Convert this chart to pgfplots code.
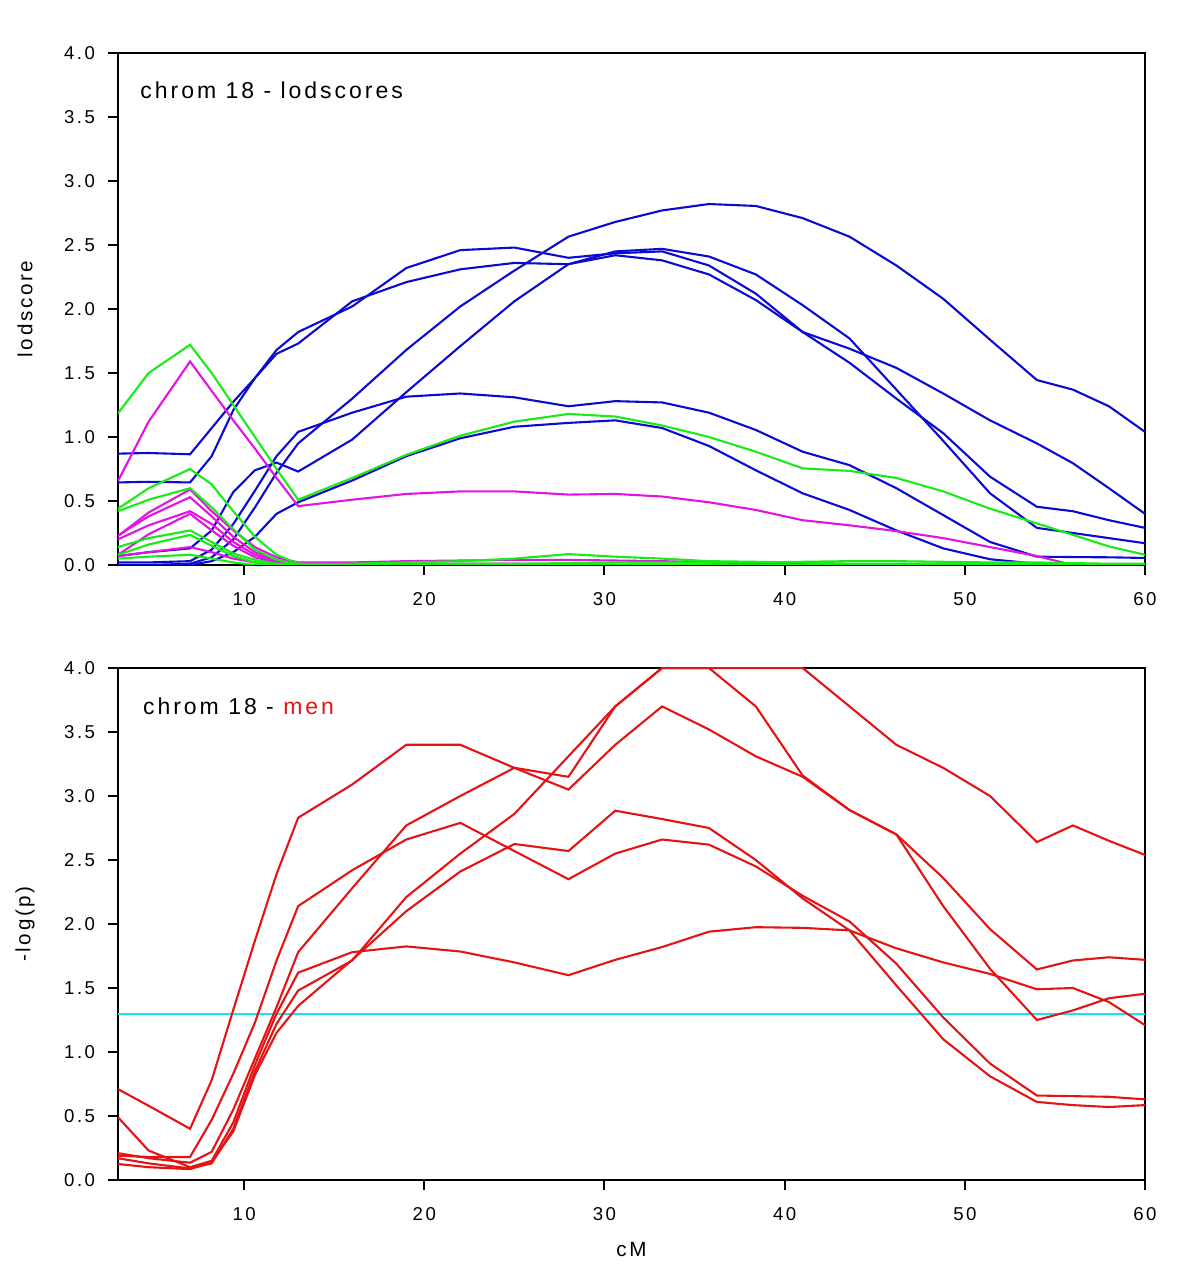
\documentclass[border=0pt]{standalone}
\usepackage{pgfplots}
\pgfplotsset{compat=1.18}
\usepackage{pgfplotstable}
\usepackage{fontspec}
\setmainfont{Liberation Sans}
\newfontfamily\lsp[LetterSpace=13]{Liberation Sans}
\definecolor{cblue}{RGB}{10,10,210}
\definecolor{cgreen}{RGB}{25,235,25}
\definecolor{cmag}{RGB}{225,20,225}
\definecolor{cred}{RGB}{228,20,20}
\definecolor{ccyan}{RGB}{20,230,235}

\pgfplotstableread{
x    L1    B1    B2    B3    L6    L7    G1    G2    G3    G4    G5    G6    M1    M2    M3    M4    M5    M6
3    0.00  0.87  0.645 0.07  0.02  0.00  1.185 0.44  0.42  0.14  0.08  0.05  0.656 0.226 0.23  0.20  0.08  0.07
4.7  0.00  0.875 0.65  0.10  0.02  0.00  1.50  0.60  0.51  0.21  0.16  0.065 1.12  0.41  0.38  0.31  0.24  0.10
7    0.01  0.865 0.645 0.13  0.03  0.00  1.72  0.75  0.60  0.27  0.235 0.08  1.59  0.59  0.53  0.42  0.40  0.14
8.2  0.06  1.07  0.85  0.27  0.12  0.03  1.50  0.63  0.45  0.18  0.15  0.05  1.36  0.42  0.38  0.32  0.27  0.10
9.4  0.20  1.275 1.21  0.57  0.32  0.10  1.25  0.42  0.28  0.09  0.07  0.02  1.13  0.27  0.22  0.18  0.15  0.05
10.6 0.45  1.46  1.46  0.74  0.58  0.22  1.00  0.22  0.12  0.04  0.02  0.00  0.91  0.14  0.10  0.08  0.06  0.02
11.8 0.72  1.65  1.68  0.80  0.85  0.40  0.75  0.08  0.04  0.01  0.00  0.00  0.68  0.06  0.04  0.03  0.02  0.00
13   0.95  1.73  1.82  0.73  1.04  0.49  0.51  0.01  0.00  0.00  0.00  0.00  0.46  0.02  0.01  0.01  0.00  0.00
16   1.30  2.06  2.02  0.98  1.19  0.66  0.68  0.005 0.00  0.01  0.00  0.00  0.51  0.02  0.01  0.00  0.00  0.00
19   1.68  2.21  2.32  1.35  1.315 0.85  0.86  0.005 0.00  0.02  0.00  0.00  0.555 0.03  0.01  0.00  0.00  0.00
22   2.02  2.31  2.46  1.71  1.34  0.99  1.01  0.01  0.00  0.03  0.00  0.00  0.575 0.035 0.01  0.00  0.00  0.00
25   2.30  2.36  2.48  2.06  1.31  1.08  1.12  0.01  0.00  0.05  0.00  0.00  0.575 0.04  0.01  0.00  0.00  0.00
28   2.565 2.35  2.40  2.35  1.24  1.11  1.18  0.015 0.00  0.085 0.00  0.00  0.55  0.04  0.005 0.00  0.00  0.00
30.6 2.68  2.42  2.435 2.45  1.28  1.13  1.16  0.02  0.00  0.065 0.00  0.00  0.555 0.035 0.00  0.00  0.00  0.00
33.2 2.77  2.38  2.45  2.47  1.27  1.07  1.09  0.02  0.00  0.05  0.00  0.00  0.535 0.03  0.00  0.00  0.00  0.00
35.8 2.82  2.27  2.34  2.41  1.19  0.93  1.00  0.02  0.00  0.03  0.00  0.00  0.49  0.02  0.00  0.00  0.00  0.00
38.4 2.805 2.07  2.12  2.27  1.055 0.74  0.885 0.02  0.00  0.025 0.00  0.00  0.43  0.015 0.00  0.00  0.00  0.00
41   2.71  1.82  1.82  2.03  0.885 0.56  0.755 0.025 0.00  0.02  0.00  0.00  0.35  0.01  0.00  0.00  0.00  0.00
43.6 2.565 1.58  1.69  1.77  0.78  0.43  0.735 0.03  0.00  0.01  0.00  0.00  0.31  0.005 0.00  0.00  0.00  0.00
46.2 2.34  1.30  1.54  1.37  0.60  0.27  0.68  0.03  0.00  0.01  0.00  0.00  0.265 0.00  0.00  0.00  0.00  0.00
48.8 2.08  1.03  1.34  0.97  0.39  0.13  0.575 0.025 0.00  0.01  0.00  0.00  0.21  0.00  0.00  0.00  0.00  0.00
51.4 1.76  0.69  1.13  0.56  0.18  0.045 0.44  0.02  0.00  0.01  0.00  0.00  0.14  0.00  0.00  0.00  0.00  0.00
54   1.445 0.455 0.95  0.29  0.065 0.01  0.325 0.02  0.00  0.005 0.00  0.00  0.07  0.00  0.00  0.00  0.00  0.00
56   1.37  0.42  0.795 0.25  0.062 0.00  0.235 0.015 0.00  0.00  0.00  0.00  0.00  0.00  0.00  0.00  0.00  0.00
58   1.24  0.35  0.60  0.21  0.06  0.00  0.145 0.01  0.00  0.00  0.00  0.00  0.00  0.00  0.00  0.00  0.00  0.00
60   1.04  0.29  0.40  0.17  0.055 0.00  0.08  0.01  0.00  0.00  0.00  0.00  0.00  0.00  0.00  0.00  0.00  0.00
}\toptab

\pgfplotstableread{
x    A     B     C     E     F     G
3    0.71  0.21  0.17  0.19  0.125 0.49
4.7  0.58  0.17  0.13  0.18  0.10  0.23
7    0.40  0.135 0.09  0.18  0.085 0.10
8.2  0.78  0.22  0.13  0.47  0.14  0.15
9.4  1.33  0.55  0.40  0.83  0.38  0.45
10.6 1.87  0.95  0.85  1.23  0.82  0.90
11.8 2.39  1.35  1.22  1.715 1.15  1.30
13   2.83  1.78  1.48  2.14  1.36  1.62
16   3.09  2.28  1.715 2.42  1.72  1.78
19   3.40  2.77  2.21  2.66  2.10  1.825
22   3.40  3.00  2.55  2.79  2.41  1.785
25   3.22  3.22  2.86  2.57  2.625 1.70
28   3.05  3.15  3.31  2.35  2.57  1.60
30.6 3.40  3.70  3.70  2.55  2.885 1.72
33.2 3.70  4.00  4.00  2.66  2.82  1.82
35.8 3.52  4.00  4.00  2.62  2.75  1.94
38.4 3.31  4.00  3.70  2.45  2.50  1.975
41   3.15  4.00  3.16  2.22  2.20  1.97
43.6 2.89  3.70  2.89  2.02  1.95  1.95
46.2 2.70  3.40  2.70  1.69  1.52  1.81
48.8 2.36  3.22  2.14  1.27  1.10  1.70
51.4 1.96  3.00  1.65  0.91  0.81  1.61
54   1.645 2.64  1.25  0.66  0.61  1.49
56   1.715 2.77  1.325 0.655 0.585 1.50
58   1.74  2.65  1.42  0.65  0.57  1.39
60   1.72  2.54  1.455 0.63  0.585 1.21
}\bottab

\pgfplotsset{chromstyle/.style={
  width=513.5pt, height=256pt, scale only axis,
  xmin=3, xmax=60, ymin=0, ymax=4,
  xtick={10,20,30,40,50,60}, ytick={0,0.5,...,4.0},
  tick align=outside, tick pos=left,
  major tick length=5pt,
  every tick/.style={black, line width=1pt},
  axis line style={line width=1.2pt},
  y tick label style={/pgf/number format/.cd, fixed, fixed zerofill, precision=1, /tikz/.cd, xshift=-3pt},
  x tick label style={yshift=-5pt},
  /pgf/number format/assume math mode=true,
  tick label style={font=\lsp\fontsize{9.3}{10}\selectfont},
  label style={font=\lsp\fontsize{10.3}{12}\selectfont},
  ylabel style={at={(axis description cs:-0.0906,0.5)}, anchor=center},
  every axis plot/.append style={line width=1.05pt},
}}

\begin{document}
\begin{tikzpicture}
\useasboundingbox (0,0) rectangle (600pt,635.5pt);
\begin{axis}[chromstyle, at={(59pt,353pt)}, anchor=south west, ylabel={lodscore}]
\foreach \c in {L1,B1,B2,B3,L6,L7}{\addplot[cblue] table[x=x,y=\c]{\toptab};}
\foreach \c in {M1,M2,M3,M4,M5,M6}{\addplot[cmag] table[x=x,y=\c]{\toptab};}
\foreach \c in {G1,G2,G3,G4,G5,G6}{\addplot[cgreen] table[x=x,y=\c]{\toptab};}
\node[anchor=west, inner sep=0pt, font=\lsp\fontsize{11.5}{13}\selectfont] at (rel axis cs:0.0214,0.928) {chrom 18 - lodscores};
\end{axis}
\begin{axis}[chromstyle, at={(59pt,45.5pt)}, anchor=south west, ylabel={-log(p)}, xlabel={cM},
  xlabel style={at={(axis description cs:0.5,-0.1365)}, anchor=center}]
\addplot[ccyan] coordinates {(3,1.30) (60,1.30)};
\foreach \c in {A,B,C,E,F,G}{\addplot[cred] table[x=x,y=\c]{\bottab};}
\node[anchor=west, inner sep=0pt, font=\lsp\fontsize{11.5}{13}\selectfont] at (rel axis cs:0.024,0.926) {chrom 18 - \textcolor{cred}{men}};
\end{axis}
\end{tikzpicture}
\end{document}
